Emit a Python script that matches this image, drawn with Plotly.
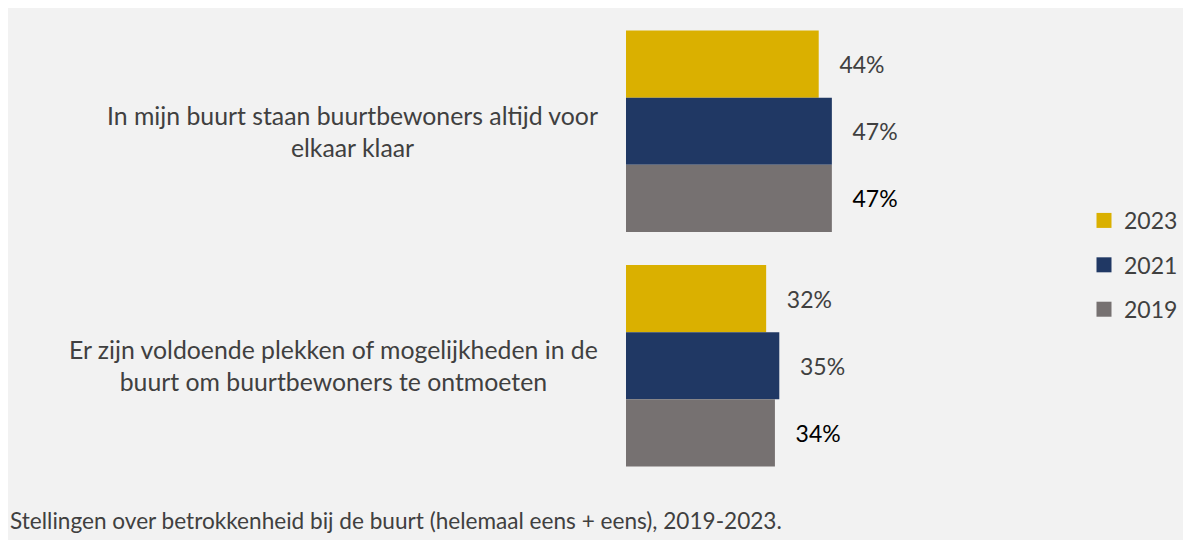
import plotly.graph_objects as go

categories = [
    "In mijn buurt staan buurtbewoners altijd voor<br>elkaar klaar",
    "Er zijn voldoende plekken of mogelijkheden in de<br>buurt om buurtbewoners te ontmoeten",
]
years = ["2023", "2021", "2019"]
values_2023 = [44, 32]
values_2021 = [47, 35]
values_2019 = [47, 34]
caption = "Stellingen over betrokkenheid bij de buurt (helemaal eens + eens), 2019-2023."

colors = {"2023": "#DAB000", "2021": "#203864", "2019": "#767171"}
label_colors = {"2023": "#404040", "2021": "#404040", "2019": "#000000"}
series = {"2023": values_2023, "2021": values_2021, "2019": values_2019}

FONT = "Lato, Carlito, Calibri, sans-serif"
W, H = 1191, 540
L, R, T, B = 618, 0, 5.5, 64.5
pw = W - L - R          # paper width
ph = H - T - B          # paper height
axis_w = 438            # pixels for 0..100 %

fig = go.Figure()
pad = "\u00a0" * 3
for y in years:
    fig.add_trace(go.Bar(
        name=y,
        y=categories,
        x=series[y],
        orientation="h",
        marker=dict(color=colors[y], line=dict(width=0)),
        text=[f"{pad}{v}%" for v in series[y]],
        textposition="outside",
        textfont=dict(family=FONT, size=23, color=label_colors[y]),
        cliponaxis=False,
        hoverinfo="skip",
        showlegend=False,
    ))
# legend-only entries with larger square symbols
for y in years:
    fig.add_trace(go.Scatter(
        name=y, x=[None], y=[None], mode="markers",
        marker=dict(symbol="square", size=15, color=colors[y]),
        legendgroup=y, showlegend=True, hoverinfo="skip",
    ))

annotations = []
for c in categories:
    annotations.append(dict(
        xref="paper", yref="y", x=(592 - L) / pw, y=c,
        text=c, showarrow=False, xanchor="right", yanchor="middle",
        align="center", font=dict(family=FONT, size=24.8, color="#404040"),
    ))
annotations.append(dict(
    xref="paper", yref="paper", x=(0 - L) / pw, y=-(513 - (H - B)) / ph,
    text=caption, showarrow=False, xanchor="left", yanchor="middle",
    font=dict(family=FONT, size=22.6, color="#404040"),
))

fig.update_layout(
    width=W, height=H,
    margin=dict(l=L, r=R, t=T, b=B, pad=0),
    paper_bgcolor="#F2F2F2",
    plot_bgcolor="#F2F2F2",
    barmode="group",
    bargap=0.14,
    bargroupgap=0,
    showlegend=True,
    legend=dict(
        x=(1076 - L) / pw, y=1 - (257 - T) / ph, xanchor="left", yanchor="middle",
        xref="paper", yref="paper",
        font=dict(family=FONT, size=23, color="#404040"),
        itemwidth=30, tracegroupgap=11.5, bgcolor="rgba(0,0,0,0)",
        traceorder="grouped",
    ),
    xaxis=dict(range=[0, 100], domain=[0, axis_w / pw], visible=False, fixedrange=True),
    yaxis=dict(autorange="reversed", showticklabels=False, showgrid=False,
               zeroline=False, showline=False, ticks=""),
    annotations=annotations,
    font=dict(family=FONT),
)

fig.write_html("out.html")
